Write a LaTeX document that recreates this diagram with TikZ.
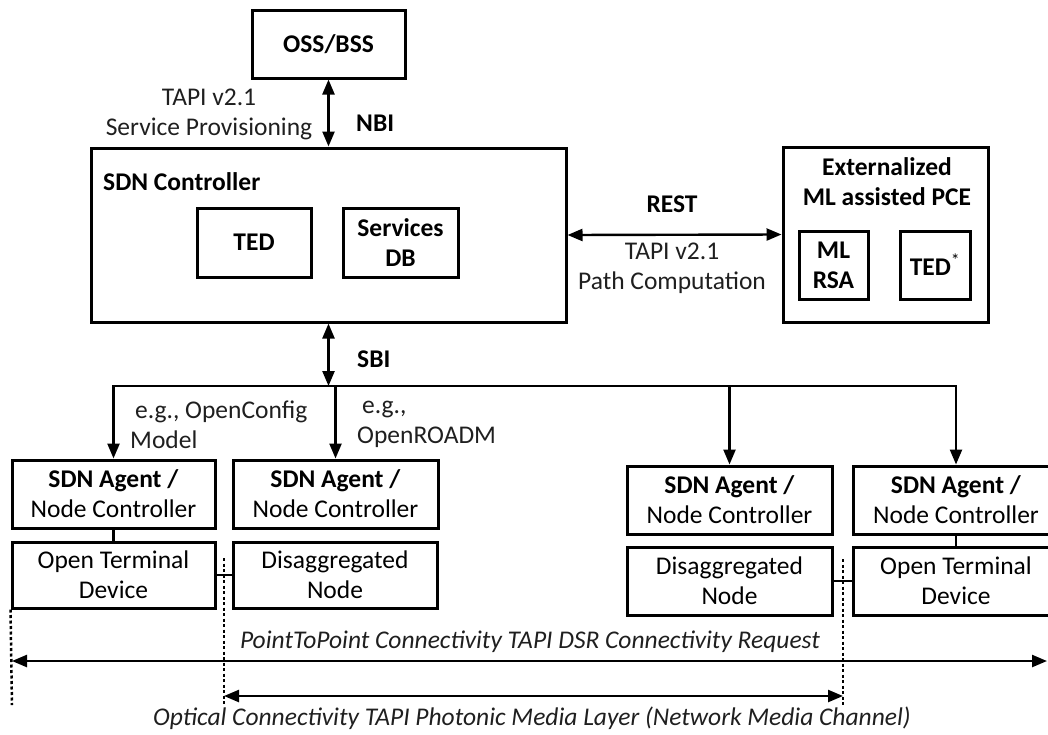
\documentclass[tikz,border=0pt]{standalone}
\usepackage{fontspec}
\setmainfont{Carlito}
\usetikzlibrary{arrows.meta}

\begin{document}
\begin{tikzpicture}[x=1pt,y=-1pt,
  every node/.style={font=\fontsize{25.5}{30}\selectfont, inner sep=0pt},
  box/.style={draw, line width=3pt, align=center},
  link/.style={line width=2.4pt},
  tip/.tip={Triangle[length=15pt,width=12pt]},
  arr/.style={link, -tip},
  biarr/.style={link, tip-tip},
  guide/.style={line width=2.5pt, dash pattern=on 3pt off 2.5pt},
  lbl/.style={align=center, text=black!88}]

\clip (0,0) rectangle (1048,734);

% management and control boxes
\node[box, minimum width=153, minimum height=68] (oss) at (328.5,44) {\textbf{OSS/BSS}};
\node[box, minimum width=475, minimum height=174] (sdn) at (328.5,235) {};
\node[anchor=west] (sdnlabel) at (103,182) {\textbf{SDN Controller}};
\node[box, minimum width=114, minimum height=69] (ted) at (254,242.5) {\textbf{TED}};
\node[box, minimum width=115, minimum height=69] (sdb) at (400.5,242.5) {\textbf{Services}\\\textbf{DB}};

\node[box, minimum width=205, minimum height=175] (pce) at (885.5,234.5) {};
\node[align=center] (pcelabel) at (887,182) {\textbf{Externalized}\\\textbf{ML assisted PCE}};
\node[box, minimum width=69, minimum height=68] (mlrsa) at (833.5,265) {\textbf{ML}\\\textbf{RSA}};
\node[box, minimum width=70, minimum height=68] (tedx) at (935,265) {\textbf{TED}\textsuperscript{*}};

% agents
\node[box, minimum width=203, minimum height=68] (ag1) at (113.5,494) {\textbf{SDN Agent /}\\Node Controller};
\node[box, minimum width=205, minimum height=68] (ag2) at (335.5,494) {\textbf{SDN Agent /}\\Node Controller};
\node[box, minimum width=205, minimum height=68] (ag3) at (729.5,500) {\textbf{SDN Agent /}\\Node Controller};
\node[box, minimum width=206, minimum height=68] (ag4) at (956,500) {\textbf{SDN Agent /}\\Node Controller};

% network elements
\node[box, minimum width=203, minimum height=66] (dev1) at (113.5,575) {Open Terminal\\Device};
\node[box, minimum width=204, minimum height=66] (dis2) at (335,575) {Disaggregated\\Node};
\node[box, minimum width=205, minimum height=68] (dis3) at (729.5,581) {Disaggregated\\Node};
\node[box, minimum width=206, minimum height=68] (dev4) at (956,581) {Open Terminal\\Device};

% interfaces
\draw[biarr] (oss.south) -- (oss.south |- sdn.north);
\node[lbl] (nbitext) at (209,114) {TAPI v2.1\\Service Provisioning};
\node[anchor=west] (nbi) at (356,123) {\textbf{NBI}};

\draw[biarr] (sdn.east) -- (pce.west);
\node (rest) at (672,204) {\textbf{REST}};
\node[lbl] (resttext) at (672,268) {TAPI v2.1\\Path Computation};

\coordinate (bus) at (328.5,386);
\draw[biarr] (sdn.south) -- (bus);
\node[anchor=west] (sbi) at (357,359) {\textbf{SBI}};

\draw[arr] (bus) -| (ag1.north);
\draw[arr] (bus) -| (ag2.north);
\draw[arr] (bus) -| (ag3.north);
\draw[arr] (bus) -| (ag4.north);
\node[lbl, align=left, anchor=west] (oc) at (130,425) {\hspace{5pt}e.g., OpenConfig\\Model};
\node[lbl, align=left, anchor=west] (ordm) at (357,424) {\hspace{5pt}e.g.,\\OpenROADM};

% agent to element and element to element links
\draw[link] (ag1.south) -- (dev1.north);
\draw[link] (ag4.south) -- (dev4.north);
\draw[link] (dev1.east) -- (dis2.west);
\draw[link] (dis3.east) -- (dev4.west);

% connectivity extents
\coordinate (g1) at (12,705);
\coordinate (g2t) at (224,558);
\coordinate (g2) at (224,705);
\coordinate (g3t) at (843,559);
\coordinate (g3) at (843,705);
\coordinate (rightend) at (1047,661);
\draw[guide] (dev1.south west) -- (g1);
\draw[guide] (g2t) -- (g2);
\draw[guide] (g3t) -- (g3);

\draw[biarr] (g1 |- rightend) -- (rightend);
\draw[biarr] (224,696) -- (843,696);
\node[lbl, font=\fontsize{25.5}{30}\selectfont\itshape] (p2p) at (530,642) {PointToPoint Connectivity TAPI DSR Connectivity Request};
\node[lbl, font=\fontsize{25.5}{30}\selectfont\itshape] (och) at (532,718) {Optical Connectivity TAPI Photonic Media Layer (Network Media Channel)};
\end{tikzpicture}
\end{document}
